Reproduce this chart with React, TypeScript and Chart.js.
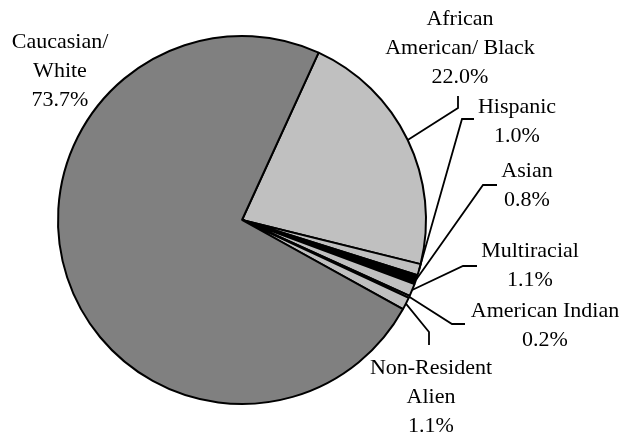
import React, { useEffect, useRef } from "react";
import { Chart, registerables } from "chart.js";

Chart.register(...registerables);

// Data (clockwise from the top-right boundary)
const categories = [
  "African American/ Black",
  "Hispanic",
  "Asian",
  "Multiracial",
  "American Indian",
  "Non-Resident Alien",
  "Caucasian/ White",
];
const values = [22.0, 1.0, 0.8, 1.1, 0.2, 1.1, 73.7];
const labelLines = [
  ["African", "American/ Black"],
  ["Hispanic"],
  ["Asian"],
  ["Multiracial"],
  ["American Indian"],
  ["Non-Resident", "Alien"],
  ["Caucasian/", "White"],
];
const colors = ["#c0c0c0", "#c0c0c0", "#000000", "#c0c0c0", "#c0c0c0", "#c0c0c0", "#808080"];

// Layout of the text labels (center x, first baseline) and leader elbows
const labelPos = [
  { x: 460, y: 25, leader: [[458, 108], [458, 96]] },
  { x: 517, y: 113, leader: [[462, 119], [474, 119]] },
  { x: 527, y: 177, leader: [[483, 185], [497, 185]] },
  { x: 530, y: 257, leader: [[463, 266], [477, 266]] },
  { x: 545, y: 317, leader: [[452, 324], [465, 324]] },
  { x: 431, y: 374, leader: [[429, 332], [429, 345]] },
  { x: 60, y: 48, leader: null as null | number[][] },
];
const LINE_H = 29;
const FONT = "22px 'Liberation Serif', 'Times New Roman', serif";

const labelPlugin = {
  id: "pieLabels",
  afterDraw(chart: any) {
    const ctx = chart.ctx;
    const meta = chart.getDatasetMeta(0);
    ctx.save();
    meta.data.forEach((arc: any, i: number) => {
      const p = labelPos[i];
      const { x, y, startAngle, endAngle, outerRadius } = arc.getProps(
        ["x", "y", "startAngle", "endAngle", "outerRadius"],
        true
      );
      if (p.leader) {
        const mid = (startAngle + endAngle) / 2;
        const sx = x + Math.cos(mid) * outerRadius;
        const sy = y + Math.sin(mid) * outerRadius;
        ctx.beginPath();
        ctx.moveTo(sx, sy);
        p.leader.forEach((pt) => ctx.lineTo(pt[0], pt[1]));
        ctx.strokeStyle = "#000";
        ctx.lineWidth = 1.8;
        ctx.stroke();
      }
      const lines = [...labelLines[i], values[i].toFixed(1) + "%"];
      ctx.fillStyle = "#000";
      ctx.font = FONT;
      ctx.textAlign = "center";
      ctx.textBaseline = "alphabetic";
      lines.forEach((t, k) => ctx.fillText(t, p.x, p.y + k * LINE_H));
    });
    ctx.restore();
  },
};

export default function App() {
  const ref = useRef<HTMLCanvasElement>(null);
  useEffect(() => {
    document.body.style.margin = "0";
    const chart = new Chart(ref.current!, {
      type: "pie",
      data: {
        labels: categories,
        datasets: [
          {
            data: values,
            backgroundColor: colors,
            borderColor: "#000",
            borderWidth: 2,
          },
        ],
      },
      options: {
        responsive: false,
        animation: false,
        rotation: 24.6,
        radius: 184,
        layout: { padding: { left: 58, right: 214, top: 36, bottom: 36 } },
        plugins: { legend: { display: false }, tooltip: { enabled: false } },
      },
      plugins: [labelPlugin],
    });
    return () => chart.destroy();
  }, []);
  return (
    <div style={{ position: "absolute", left: 0, top: 0, width: 640, height: 440, background: "#fff" }}>
      <canvas ref={ref} width={640} height={440} />
    </div>
  );
}
